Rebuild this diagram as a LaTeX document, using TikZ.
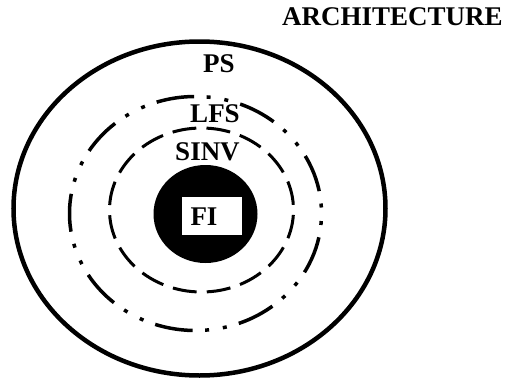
\documentclass[tikz,border=0pt]{standalone}
\usepackage{fontspec}
\setmainfont{Liberation Serif}
\begin{document}
\begin{tikzpicture}[x=1pt,y=-1pt,
  lbl/.style={font=\fontsize{27}{31}\selectfont\bfseries, inner sep=0pt, anchor=center},
  outerring/.style={line width=4.5pt},
  lfsring/.style={line width=3.5pt, dash pattern=on 4pt off 12.5pt on 38pt off 12.5pt on 4pt off 13.9pt, dash phase=78.9pt},
  sinvring/.style={line width=3pt, dash pattern=on 24pt off 10.2pt, dash phase=29pt}]
\useasboundingbox (0,0) rectangle (507,381);
\draw[outerring] (199.5,208.5) ellipse [x radius=186pt, y radius=167pt];
\draw[lfsring] (195.5,213.5) ellipse [x radius=126pt, y radius=117pt];
\draw[sinvring] (201.5,210) ellipse [x radius=92pt, y radius=82pt];
\fill (205.5,214) ellipse [x radius=52pt, y radius=49pt];
\fill[white] (182,197) rectangle (242,235);
\node[lbl] (fi) at (204,217) {FI};
\node[lbl] (sinv) at (207.5,152) {SINV};
\node[lbl] (lfs) at (215,114) {LFS};
\node[lbl] (ps) at (219,64) {PS};
\node[lbl] (arch) at (392.5,17) {ARCHITECTURE};
\end{tikzpicture}
\end{document}
